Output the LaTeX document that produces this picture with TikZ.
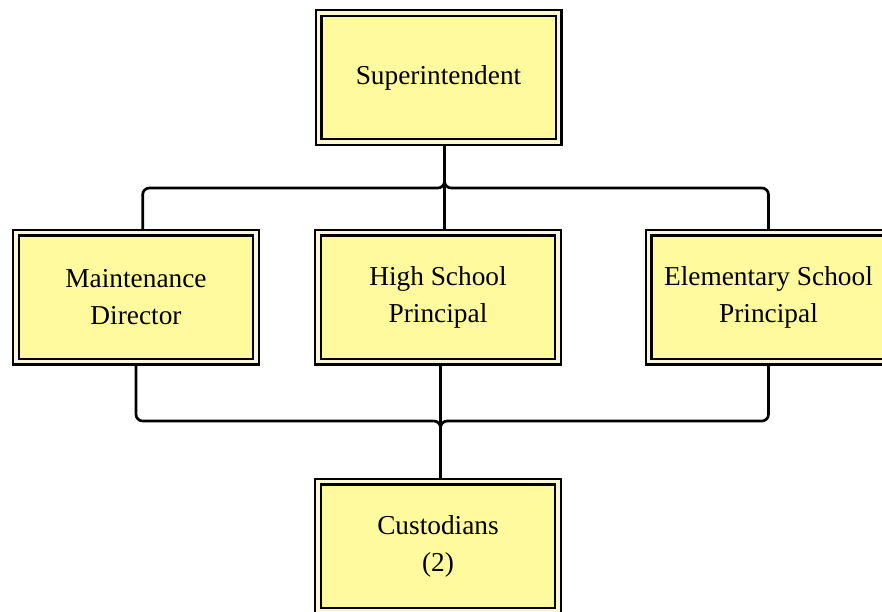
\documentclass[tikz,border=0pt]{standalone}
\usepackage{fontspec}
\setmainfont{Liberation Serif}
\usetikzlibrary{backgrounds}
\definecolor{boxfill}{RGB}{255,250,158}
\definecolor{boxgap}{RGB}{250,246,214}
\tikzset{every picture/.style={line width=0.75pt}}
\tikzset{
  posbox/.style={draw=black, line width=1.8pt, double=boxgap, double distance=2.4pt,
    fill=boxfill, minimum width=180pt, minimum height=96.75pt, align=center,
    inner sep=0pt, font=\fontsize{20.5}{27.75}\selectfont},
  link/.style={draw=black, line width=2pt, rounded corners=5pt}
}

\begin{document}
\begin{tikzpicture}[x=0.75pt,y=0.75pt,yscale=-1,xscale=1]
\useasboundingbox (0,0) rectangle (882,611);

% Boxes
\node [posbox] (sup) at (438.5,77.5) {Superintendent};
\node [posbox] (mnt) at (136,297) {Maintenance\\Director};
\node [posbox] (hs) at (438,297) {High School\\Principal};
\node [posbox] (elem) at (768.5,297) {Elementary School\\Principal};
\node [posbox] (cus) at (438,546) {Custodians\\(2)};

% Bus points
\coordinate (topbus) at (444.5,188);
\coordinate (botbus) at (440.5,421);

% Connectors
\begin{scope}[on background layer]
\draw [link] (topbus |- sup.south) -- (topbus |- hs.north);
\draw [link] (topbus |- sup.south) -- (topbus) -| ([xshift=5pt]mnt.north);
\draw [link] (topbus |- sup.south) -- (topbus) -| (elem.north);
\draw [link] (botbus |- hs.south) -- (botbus |- cus.north);
\draw [link] (mnt.south) |- (botbus) -- (botbus |- cus.north);
\draw [link] (elem.south) |- (botbus) -- (botbus |- cus.north);
\end{scope}

\end{tikzpicture}
\end{document}
